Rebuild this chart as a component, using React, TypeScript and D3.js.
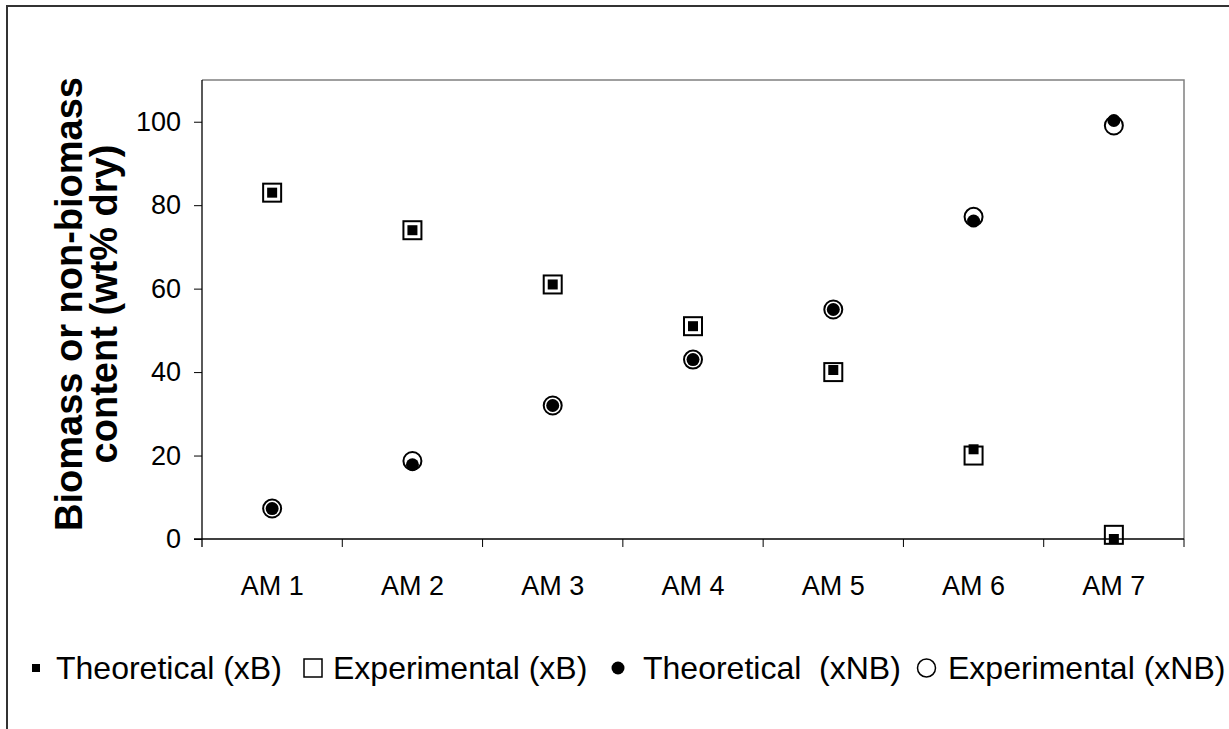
import React, { useEffect, useRef } from 'react';
import * as d3 from 'd3';

const categories = ['AM 1', 'AM 2', 'AM 3', 'AM 4', 'AM 5', 'AM 6', 'AM 7'];
const theoreticalXB = [83, 74, 61, 51, 40.5, 21.5, 0];
const experimentalXB = [83, 74, 61, 51, 40, 20, 1];
const theoreticalXNB = [7.3, 17.8, 32, 43, 55, 76.2, 100.3];
const experimentalXNB = [7.3, 18.7, 32, 43, 55, 77.2, 99.1];
const yTicks = [0, 20, 40, 60, 80, 100];
const legendLabels = ['Theoretical (xB)', 'Experimental (xB)', 'Theoretical  (xNB)', 'Experimental (xNB)'];

const W = 1229;
const H = 729;
const FONT = '"Liberation Sans", Arial, sans-serif';

const App = () => {
    const svgRef = useRef<SVGSVGElement>(null);

    useEffect(() => {
        const svg = d3.select(svgRef.current);
        svg.selectAll('*').remove();

        const plot = { left: 202, right: 1184, top: 80, bottom: 539 };

        const x = d3.scaleBand().domain(categories).range([plot.left, plot.right]).padding(0);
        const y = d3.scaleLinear().domain([0, 110]).range([plot.bottom, plot.top]);
        const cx = (i: number) => (x(categories[i]) as number) + x.bandwidth() / 2;

        // outer frame (runs off the right / bottom edge)
        svg.append('rect')
            .attr('x', 7).attr('y', 6)
            .attr('width', W + 20).attr('height', H + 20)
            .attr('fill', 'none')
            .attr('stroke', '#333')
            .attr('stroke-width', 2);

        // plot border (top + right in grey)
        svg.append('path')
            .attr('d', `M${plot.left},${plot.top}H${plot.right}V${plot.bottom}`)
            .attr('fill', 'none')
            .attr('stroke', '#808080')
            .attr('stroke-width', 1.5);

        // y axis
        const yAxis = svg.append('g')
            .attr('transform', `translate(${plot.left},0)`)
            .call(d3.axisLeft(y).tickValues(yTicks).tickSize(8).tickSizeOuter(0).tickPadding(13));
        yAxis.select('.domain').remove();
        yAxis.selectAll('line').attr('stroke', '#000');
        yAxis.selectAll('text')
            .style('font-family', FONT)
            .style('font-size', '27px')
            .attr('fill', '#000');

        svg.append('line')
            .attr('x1', plot.left).attr('x2', plot.left)
            .attr('y1', plot.top).attr('y2', plot.bottom + 8)
            .attr('stroke', '#000').attr('stroke-width', 1.3);

        // x axis
        svg.append('line')
            .attr('x1', plot.left - 8).attr('x2', plot.right)
            .attr('y1', plot.bottom).attr('y2', plot.bottom)
            .attr('stroke', '#000').attr('stroke-width', 1.3);

        const bounds = categories.map(c => x(c) as number).concat([plot.right]);
        svg.append('g').selectAll('line')
            .data(bounds.slice(1))
            .enter()
            .append('line')
            .attr('x1', d => d).attr('x2', d => d)
            .attr('y1', plot.bottom).attr('y2', plot.bottom + 8)
            .attr('stroke', '#000').attr('stroke-width', 1);

        svg.append('g').selectAll('text')
            .data(categories)
            .enter()
            .append('text')
            .attr('x', (d, i) => cx(i))
            .attr('y', plot.bottom + 56)
            .attr('text-anchor', 'middle')
            .style('font-family', FONT)
            .style('font-size', '27px')
            .text(d => d);

        // y axis title
        const title = svg.append('text')
            .attr('transform', `translate(82,${304}) rotate(-90)`)
            .attr('text-anchor', 'middle')
            .style('font-family', FONT)
            .style('font-size', '38px')
            .style('font-weight', 'bold');
        title.append('tspan').attr('x', 0).attr('dy', 0).text('Biomass or non-biomass');
        title.append('tspan').attr('x', 0).attr('dy', 35).text('content (wt% dry)');

        // series
        const marks = svg.append('g');

        marks.selectAll('.thB')
            .data(theoreticalXB)
            .enter()
            .append('rect')
            .attr('x', (d, i) => cx(i) - 5)
            .attr('y', d => y(d) - 5)
            .attr('width', 10).attr('height', 10)
            .attr('fill', '#000');

        marks.selectAll('.exB')
            .data(experimentalXB)
            .enter()
            .append('rect')
            .attr('x', (d, i) => cx(i) - 9)
            .attr('y', d => y(d) - 9)
            .attr('width', 18).attr('height', 18)
            .attr('fill', 'none')
            .attr('stroke', '#000')
            .attr('stroke-width', 2);

        marks.selectAll('.thNB')
            .data(theoreticalXNB)
            .enter()
            .append('circle')
            .attr('cx', (d, i) => cx(i))
            .attr('cy', d => y(d))
            .attr('r', 6.5)
            .attr('fill', '#000');

        marks.selectAll('.exNB')
            .data(experimentalXNB)
            .enter()
            .append('circle')
            .attr('cx', (d, i) => cx(i))
            .attr('cy', d => y(d))
            .attr('r', 9)
            .attr('fill', 'none')
            .attr('stroke', '#000')
            .attr('stroke-width', 2);

        // legend
        const ly = 668;
        const legend = svg.append('g');
        legend.append('rect').attr('x', 32).attr('y', ly - 4).attr('width', 8).attr('height', 8).attr('fill', '#000');
        legend.append('rect').attr('x', 304).attr('y', ly - 9).attr('width', 18).attr('height', 18)
            .attr('fill', 'none').attr('stroke', '#000').attr('stroke-width', 1.5);
        legend.append('circle').attr('cx', 618).attr('cy', ly).attr('r', 6.5).attr('fill', '#000');
        legend.append('circle').attr('cx', 926.5).attr('cy', ly).attr('r', 9)
            .attr('fill', 'none').attr('stroke', '#000').attr('stroke-width', 1.5);

        const legendX = [56, 333, 643, 948];
        legend.selectAll('text')
            .data(legendLabels)
            .enter()
            .append('text')
            .attr('x', (d, i) => legendX[i])
            .attr('y', ly + 11)
            .style('font-family', FONT)
            .style('font-size', '32px')
            .style('white-space', 'pre')
            .text(d => d);
    }, []);

    return (
        <div>
            <style>{`body{margin:0;}`}</style>
            <svg ref={svgRef} width={W} height={H} style={{ display: 'block', background: '#fff' }}></svg>
        </div>
    );
};

export default App;
